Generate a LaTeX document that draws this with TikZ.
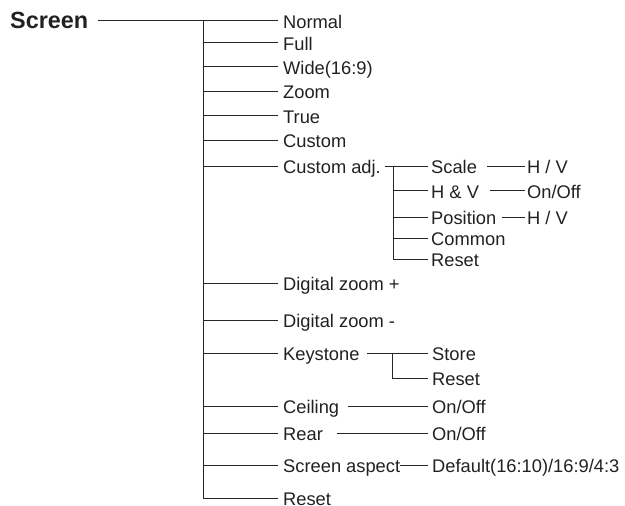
\documentclass[tikz,border=0pt]{standalone}
\usepackage{fontspec}
\setmainfont{Liberation Sans}
\begin{document}
\begin{tikzpicture}[x=1pt,y=-1pt,
  ln/.style={line width=0.9pt, draw=black!85},
  itm/.style={anchor=west, inner sep=0pt, text height=15.5pt, text depth=0pt,
    font=\fontsize{18.3}{20}\selectfont, text=black!87},
  ttl/.style={anchor=west, inner sep=0pt, text height=15.2pt, text depth=0pt,
    font=\fontsize{23.4}{26}\selectfont\bfseries, text=black!87}]
\useasboundingbox (0,0) rectangle (625,506);

% title
\node[ttl] (screen) at (10,20.5) {Screen};

% first level
\node[itm] (normal)    at (283,20.5) {Normal};
\node[itm] (full)      at (283,42.5) {Full};
\node[itm] (wide)      at (283,66.5) {Wide(16:9)};
\node[itm] (zoomi)     at (283,91)   {Zoom};
\node[itm] (true)      at (283,115.5){True};
\node[itm] (custom)    at (283,140)  {Custom};
\node[itm] (customadj) at (283,166)  {Custom adj.};
\node[itm] (dzp)       at (283,283)  {Digital zoom +};
\node[itm] (dzm)       at (283,320)  {Digital zoom -};
\node[itm] (keystone)  at (283,353)  {Keystone};
\node[itm] (ceiling)   at (283,406)  {Ceiling};
\node[itm] (rear)      at (283,433)  {Rear};
\node[itm] (aspect)    at (283,465)  {Screen aspect};
\node[itm] (reset)     at (283,498)  {Reset};

% trunk
\coordinate (ttop) at (203,20.5);
\coordinate (tbot) at (203,498);
\draw[ln] (ttop) -- (tbot);
\draw[ln] (screen -| 98,0) -- ([xshift=-5pt]normal.west);
\foreach \n in {full,wide,zoomi,true,custom,customadj,dzp,dzm,keystone,ceiling,rear,aspect,reset}
  \draw[ln] (\n -| ttop) -- ([xshift=-5pt]\n.west);

% custom adj subtree
\node[itm] (scale)    at (431,166)   {Scale};
\node[itm] (hv)       at (431,190.5) {H \& V};
\node[itm] (position) at (431,217)   {Position};
\node[itm] (common)   at (431,238)   {Common};
\node[itm] (creset)   at (431,259)   {Reset};
\coordinate (ctop) at (393,166);
\coordinate (cbot) at (393,259);
\draw[ln] (ctop) -- (cbot);
\draw[ln] (customadj -| 385,0) -- ([xshift=-3pt]scale.west);
\foreach \n in {hv,position,common,creset}
  \draw[ln] (\n -| ctop) -- ([xshift=-3pt]\n.west);

\node[itm] (shv)   at (527,166)   {H / V};
\node[itm] (onoff) at (527,190.5) {On/Off};
\node[itm] (phv)   at (527,217)   {H / V};
\draw[ln] (scale -| 487,0) -- ([xshift=-2pt]shv.west);
\draw[ln] (hv -| 490,0) -- ([xshift=-2pt]onoff.west);
\draw[ln] (position -| 502,0) -- ([xshift=-2pt]phv.west);

% keystone subtree
\node[itm] (store)  at (432,353) {Store};
\node[itm] (kreset) at (432,378) {Reset};
\coordinate (ktop) at (392,353);
\coordinate (kbot) at (392,378);
\draw[ln] (keystone -| 367,0) -- ([xshift=-4pt]store.west);
\draw[ln] (ktop) -- (kbot) -- ([xshift=-4pt]kreset.west);

% ceiling, rear, aspect
\node[itm] (conoff) at (432,406) {On/Off};
\node[itm] (ronoff) at (432,433) {On/Off};
\node[itm] (aspv)   at (432,465) {Default(16:10)/16:9/4:3};
\draw[ln] (ceiling -| 348,0) -- ([xshift=-4pt]conoff.west);
\draw[ln] (rear -| 337,0) -- ([xshift=-4pt]ronoff.west);
\draw[ln] (aspect -| 400,0) -- ([xshift=-4pt]aspv.west);
\end{tikzpicture}
\end{document}
